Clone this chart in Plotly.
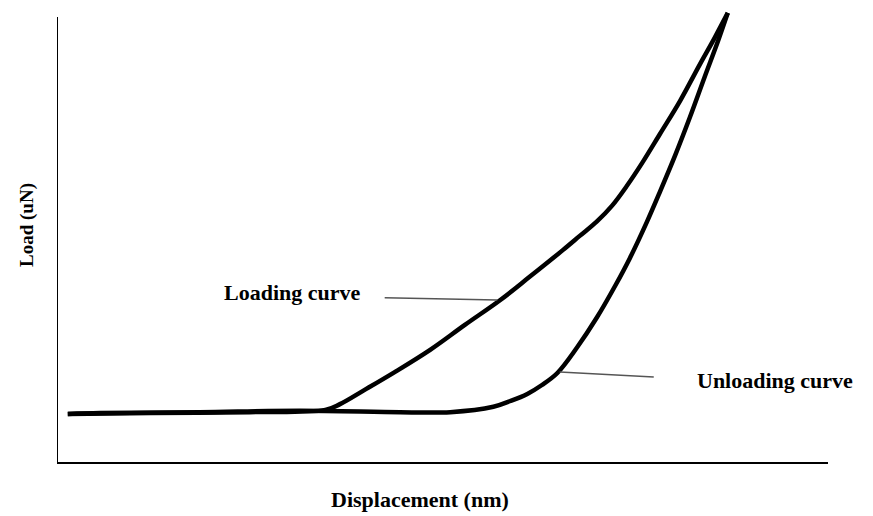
import plotly.graph_objects as go

# Loading curve (displacement, load) in arbitrary units
load_x = [1.4, 12.1, 25.0, 34.8, 36.7, 39.9, 43.8, 48.4, 52.9, 57.5, 61.3, 65.6,
          67.8, 70.0, 72.0, 73.9, 75.9, 78.2, 80.8, 83.4, 85.3, 87.0]
load_y = [10.8, 11.0, 11.2, 11.7, 13.0, 16.2, 20.2, 25.2, 30.8, 36.4, 41.6, 47.6,
          50.8, 54.0, 57.6, 62.0, 67.2, 73.7, 81.1, 89.4, 95.3, 100.9]

# Unloading curve
unload_x = [87.0, 85.7, 84.0, 82.1, 80.2, 78.2, 76.5, 74.3, 72.4, 70.0, 67.4, 64.9, 62.9,
            61.0, 58.8, 56.6, 51.0, 44.5, 31.5, 18.5, 5.6, 1.4]
unload_y = [100.9, 94.4, 86.5, 77.5, 69.0, 60.7, 53.9, 45.8, 39.6, 32.4, 25.6, 20.0, 17.3,
            15.3, 13.7, 12.4, 11.2, 11.2, 11.5, 11.2, 11.0, 10.8]

labels = ["Loading curve", "Unloading curve"]
x_title = "Displacement (nm)"
y_title = "Load (uN)"

FONT = "Liberation Serif"

fig = go.Figure()
for xs, ys in [(load_x, load_y), (unload_x, unload_y)]:
    fig.add_trace(go.Scatter(x=xs, y=ys, mode="lines",
                             line=dict(color="black", width=4.5, shape="spline", smoothing=1.0),
                             showlegend=False, hoverinfo="skip"))

# y axis line (stops below the top of the plotting area)
fig.add_shape(type="line", xref="x", yref="y", x0=0, y0=0, x1=0, y1=100,
              line=dict(color="black", width=2))

# leader lines
fig.add_shape(type="line", x0=42.5, y0=36.9, x1=57.1, y1=36.4, line=dict(color="#555555", width=1.5))
fig.add_shape(type="line", x0=65.2, y0=20.2, x1=77.4, y1=19.1, line=dict(color="#555555", width=1.5))

fig.add_annotation(x=30.5, y=38.0, text="<b>%s</b>" % labels[0], showarrow=False,
                   xanchor="center", yanchor="middle",
                   font=dict(family=FONT, size=22, color="black"))
fig.add_annotation(x=93.1, y=18.2, text="<b>%s</b>" % labels[1], showarrow=False,
                   xanchor="center", yanchor="middle",
                   font=dict(family=FONT, size=22, color="black"))

fig.add_annotation(xref="paper", yref="paper", x=0.471, y=-0.0837, text="<b>%s</b>" % x_title,
                   xanchor="center", yanchor="middle",
                   showarrow=False, font=dict(family=FONT, size=22, color="black"))
fig.add_annotation(xref="paper", yref="paper", x=-0.039, y=0.522, text="<b>%s</b>" % y_title,
                   xanchor="center", yanchor="middle",
                   showarrow=False, textangle=-90, font=dict(family=FONT, size=19, color="black"))

fig.update_xaxes(range=[0, 100], showgrid=False, zeroline=False, showticklabels=False, ticks="",
                 showline=True, linecolor="black", linewidth=2)
fig.update_yaxes(range=[0, 102], showgrid=False, zeroline=False, showticklabels=False, ticks="",
                 showline=False)

fig.update_layout(width=865, height=508, margin=dict(l=49, r=45, t=0, b=54),
                  plot_bgcolor="white", paper_bgcolor="white")

fig.write_html("out.html")
